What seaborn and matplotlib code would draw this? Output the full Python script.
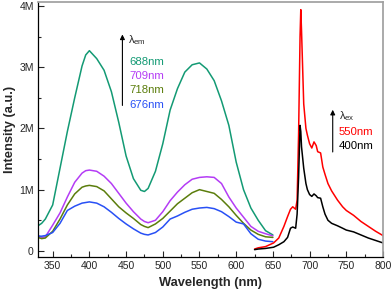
import numpy as np
import matplotlib
matplotlib.use("Agg")
import matplotlib.pyplot as plt
from matplotlib.ticker import MultipleLocator, FuncFormatter
import seaborn as sns

# excitation spectra (monitored at the emission wavelengths), values in millions
ex_wl = [330, 335, 340, 350, 360, 370, 380, 390, 395, 400, 410, 420, 430, 440, 450, 460, 470, 475,
         480, 490, 500, 510, 520, 530, 540, 550, 560, 570, 580, 590, 600, 610, 620, 630, 640, 650]
ex_688 = [0.41, 0.45, 0.52, 0.75, 1.35, 1.95, 2.5, 3.02, 3.2, 3.27, 3.14, 2.95, 2.6, 2.1, 1.55, 1.18, 0.99, 0.97,
          1.02, 1.3, 1.75, 2.3, 2.65, 2.92, 3.04, 3.07, 2.97, 2.78, 2.45, 2.05, 1.45, 1.0, 0.7, 0.5, 0.33, 0.26]
ex_709 = [0.25, 0.22, 0.23, 0.42, 0.62, 0.88, 1.12, 1.27, 1.31, 1.32, 1.3, 1.22, 1.1, 0.94, 0.78, 0.64, 0.52, 0.48,
          0.46, 0.5, 0.64, 0.82, 0.96, 1.08, 1.17, 1.2, 1.21, 1.2, 1.1, 0.88, 0.7, 0.55, 0.4, 0.32, 0.28, 0.245]
ex_718 = [0.22, 0.2, 0.21, 0.32, 0.52, 0.75, 0.93, 1.04, 1.06, 1.07, 1.05, 0.98, 0.85, 0.72, 0.62, 0.53, 0.43, 0.4,
          0.38, 0.44, 0.53, 0.65, 0.77, 0.86, 0.95, 1.0, 0.97, 0.94, 0.84, 0.72, 0.58, 0.45, 0.34, 0.27, 0.23, 0.22]
ex_676 = [0.24, 0.24, 0.25, 0.3, 0.45, 0.66, 0.73, 0.78, 0.79, 0.8, 0.78, 0.72, 0.63, 0.53, 0.44, 0.36, 0.29, 0.27,
          0.26, 0.3, 0.39, 0.52, 0.57, 0.63, 0.68, 0.7, 0.71, 0.69, 0.64, 0.56, 0.47, 0.44, 0.28, 0.19, 0.16, 0.15]

# emission spectra (excited at 550 nm and 400 nm)
em_wl = [625, 630, 640, 651, 658, 665, 670, 674, 677, 681, 683, 685, 687, 688, 689, 692, 695, 697,
         700, 703, 706, 709, 711, 715, 718, 721, 725, 730, 738, 745, 750, 760, 770, 780, 790, 800]
em_550 = [0.03, 0.05, 0.07, 0.13, 0.21, 0.4, 0.56, 0.68, 0.72, 0.68, 0.83, 1.9, 3.5, 3.94, 3.6, 2.4, 2.0, 1.89,
          1.75, 1.68, 1.78, 1.72, 1.62, 1.6, 1.37, 1.25, 1.1, 0.98, 0.83, 0.72, 0.66, 0.58, 0.48, 0.4, 0.32, 0.25]
em_400 = [0.02, 0.03, 0.04, 0.06, 0.1, 0.15, 0.22, 0.37, 0.39, 0.37, 0.6, 1.2, 2.05, 1.95, 1.7, 1.35, 1.1, 1.0,
          0.92, 0.89, 0.93, 0.9, 0.87, 0.86, 0.72, 0.6, 0.5, 0.45, 0.41, 0.37, 0.34, 0.31, 0.26, 0.21, 0.17, 0.13]

sns.set_theme(style="ticks")
plt.rcParams["font.family"] = ["Liberation Sans", "DejaVu Sans"]
plt.rcParams["mathtext.fontset"] = "custom"
plt.rcParams["mathtext.rm"] = "Liberation Sans"
plt.rcParams["mathtext.it"] = "Liberation Sans"

fig = plt.figure(figsize=(3.92, 2.97), dpi=100)
ax = fig.add_axes([38 / 392, 1 - 257 / 297, 345 / 392, 255 / 297])

ex_series = [(ex_688, "#139a74"), (ex_709, "#b43cf5"), (ex_718, "#5b7d0c"), (ex_676, "#2850f5")]
for vals, c in ex_series:
    sns.lineplot(x=ex_wl, y=np.array(vals) * 1e6, color=c, lw=1.1, ax=ax)
for vals, c in [(em_550, "#ff0000"), (em_400, "#000000")]:
    sns.lineplot(x=em_wl, y=np.array(vals) * 1e6, color=c, lw=1.1, ax=ax)

ax.set_xlim(330, 800)
ax.set_ylim(-0.1e6, 4.065e6)
ax.xaxis.set_major_locator(MultipleLocator(50))
ax.xaxis.set_minor_locator(MultipleLocator(25))
ax.yaxis.set_major_locator(MultipleLocator(1e6))
ax.yaxis.set_minor_locator(MultipleLocator(0.5e6))
ax.yaxis.set_major_formatter(FuncFormatter(lambda v, p: "0" if v == 0 else f"{v / 1e6:.0f}M"))
ax.tick_params(which="both", direction="in", labelsize=7.5, width=0.8, pad=3)
ax.tick_params(which="major", length=4)
ax.tick_params(which="minor", length=2.5)
for s in ["top", "right"]:
    ax.spines[s].set_color("#a0a0a0")
for s in ["left", "bottom"]:
    ax.spines[s].set_color("black")
    ax.spines[s].set_linewidth(0.9)

ax.set_xlabel("Wavelength (nm)", fontsize=9.3, fontweight="bold", labelpad=4)
ax.set_ylabel("Intensity (a.u.)", fontsize=9.3, fontweight="bold", labelpad=2)

# excitation annotation
ax.annotate("", xy=(445, 3.58e6), xytext=(445, 2.33e6),
            arrowprops=dict(arrowstyle="-|>", color="black", lw=0.8, mutation_scale=7))
ax.text(453, 3.44e6, r"$\lambda_{\rm em}$", fontsize=8, va="center")
for label, yv, c in [("688nm", 3.08e6, "#139a74"), ("709nm", 2.85e6, "#b43cf5"),
                     ("718nm", 2.62e6, "#5b7d0c"), ("676nm", 2.39e6, "#2850f5")]:
    ax.text(454, yv, label, fontsize=8.2, color=c, va="center")

# emission annotation
ax.annotate("", xy=(731.5, 2.35e6), xytext=(731.5, 1.57e6),
            arrowprops=dict(arrowstyle="-|>", color="black", lw=0.8, mutation_scale=7))
ax.text(740, 2.2e6, r"$\lambda_{\rm ex}$", fontsize=8, va="center")
ax.text(740, 1.94e6, "550nm", fontsize=8.2, color="#ff0000", va="center")
ax.text(740, 1.71e6, "400nm", fontsize=8.2, color="black", va="center")

fig.savefig("out.png", dpi=100)
